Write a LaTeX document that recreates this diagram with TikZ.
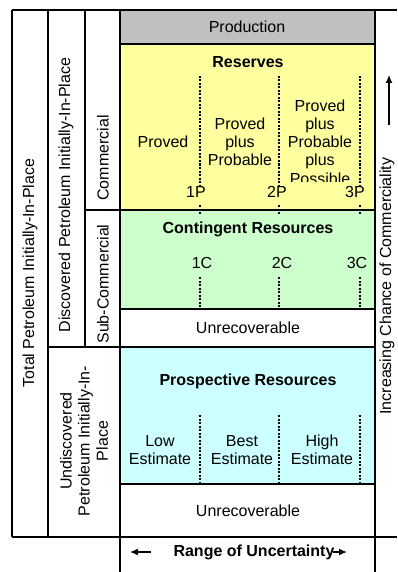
\documentclass[tikz,border=0pt]{standalone}
\usepackage{fontspec}
\setmainfont{Liberation Sans}
\usetikzlibrary{arrows.meta}
\definecolor{prodGray}{RGB}{192,192,192}
\definecolor{resYellow}{RGB}{255,255,160}
\definecolor{contGreen}{RGB}{204,255,204}
\definecolor{prospBlue}{RGB}{204,255,255}

\tikzset{
  lbl/.style={font=\fontsize{16}{18.2}\selectfont, align=center, inner sep=0pt},
  titletext/.style={lbl, font=\fontsize{16}{18.2}\selectfont\bfseries},
  frameline/.style={line width=2pt},
  uncline/.style={line width=1.8pt, dash pattern=on 2pt off 1.5pt},
  axisarrow/.style={line width=1.4pt, -{Latex[length=8pt,width=7pt]}}
}

\begin{document}
\begin{tikzpicture}[x=1pt,y=-1pt]
\useasboundingbox (0,0) rectangle (397,572);
\fill[white] (0,0) rectangle (397,572);

% class fills
\fill[prodGray] (120,10) rectangle (375,44);
\fill[resYellow] (120,44) rectangle (375,210);
\fill[contGreen] (120,210) rectangle (375,309);
\fill[prospBlue] (120,347) rectangle (375,484);

% uncertainty splits
\foreach \xx in {200,279,360} {
  \draw[uncline] (\xx,76) -- (\xx,186);
  \draw[uncline] (\xx,205) -- (\xx,215);
  \draw[uncline] (\xx,277) -- (\xx,309);
  \draw[uncline] (\xx,415) -- (\xx,484);
}

% frame
\draw[frameline] (12,10) -- (397,10);
\draw[frameline] (12,537) -- (397,537);
\draw[frameline] (12,10) -- (12,537);
\draw[frameline] (48,10) -- (48,537);
\draw[frameline] (85,10) -- (85,347);
\draw[frameline] (120,10) -- (120,572);
\draw[frameline] (375,10) -- (375,572);
\draw[frameline] (120,44) -- (375,44);
\draw[frameline] (85,210) -- (375,210);
\draw[frameline] (120,309) -- (375,309);
\draw[frameline] (48,347) -- (375,347);
\draw[frameline] (120,484) -- (375,484);

% left labels
\node[lbl, rotate=90] (totalPIIP) at (30,273) {Total Petroleum Initially-In-Place};
\node[lbl, rotate=90] (discPIIP) at (66,195) {Discovered Petroleum Initially-In-Place};
\node[lbl, rotate=90] (commercial) at (103,158) {Commercial};
\node[lbl, rotate=90] (subCommercial) at (103,284) {Sub-Commercial};
\node[lbl, rotate=90] (undiscPIIP) at (84,441) {Undiscovered\\Petroleum Initially-In-\\Place};

% reserves
\node[lbl] (production) at (247,27) {Production};
\node[titletext] (reserves) at (248,62) {Reserves};
\node[lbl] (proved) at (163,142) {Proved};
\node[lbl] (provedProb) at (240,142) {Proved\\plus\\Probable};
\begin{scope}
  \clip (285,80) rectangle (356,181);
  \node[lbl] (provedPoss) at (320,142) {Proved\\plus\\Probable\\plus\\Possible};
\end{scope}
\node[lbl] (oneP) at (196,192) {1P};
\node[lbl] (twoP) at (277,192) {2P};
\node[lbl] (threeP) at (355,192) {3P};

% contingent
\node[titletext] (contingent) at (248,229) {Contingent Resources};
\node[lbl] (oneC) at (202,263) {1C};
\node[lbl] (twoC) at (282,263) {2C};
\node[lbl] (threeC) at (357,263) {3C};
\node[lbl] (unrecA) at (248,328) {Unrecoverable};

% prospective
\node[titletext] (prospective) at (248,381) {Prospective Resources};
\node[lbl] (low) at (160,450) {Low\\Estimate};
\node[lbl] (best) at (242,450) {Best\\Estimate};
\node[lbl] (high) at (322,450) {High\\Estimate};
\node[lbl] (unrecB) at (248,511) {Unrecoverable};

% axes
\node[lbl, rotate=90] (chance) at (387,286) {Increasing Chance of Commerciality};
\coordinate (chanceTail) at (389,125);
\coordinate (chanceHead) at (389,75);
\draw[axisarrow] (chanceTail) -- (chanceHead);

\node[titletext] (range) at (254,552) {Range of Uncertainty};
\coordinate (rangeLeftTail) at (151,552);
\coordinate (rangeLeftHead) at (130,552);
\coordinate (rangeRightTail) at (333,552);
\coordinate (rangeRightHead) at (347,552);
\draw[axisarrow] (rangeLeftTail) -- (rangeLeftHead);
\draw[axisarrow] (rangeRightTail) -- (rangeRightHead);
\end{tikzpicture}
\end{document}
